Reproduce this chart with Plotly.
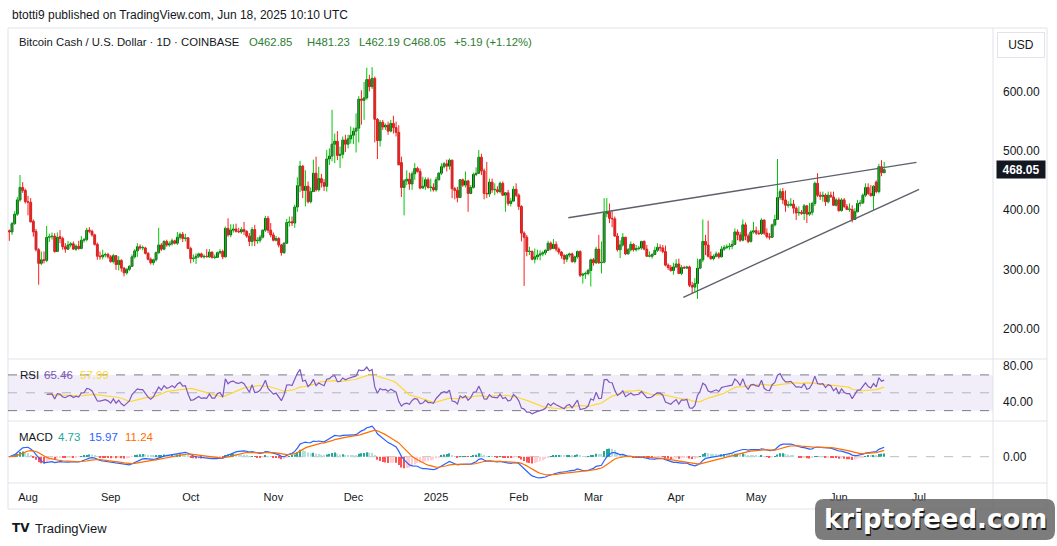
import pandas as pd
import numpy as np
import plotly.graph_objects as go

W, H = 1057, 546

# ---------------- DATA ----------------
start_date = "2024-07-25"

opens = [
365,363,377,393,417,438,433,414,413,381,
364,333,310,316,315,354,355,356,330,355,
352,338,334,341,343,334,339,335,349,350,
366,364,358,342,322,321,324,325,321,313,
323,308,315,302,294,300,305,321,331,338,
336,336,327,317,311,316,328,341,334,347,
341,343,348,344,354,359,352,353,335,318,
319,322,326,321,322,321,329,320,320,328,
330,321,369,358,366,368,364,363,367,364,
356,347,367,348,349,354,366,386,366,358,
349,352,341,328,344,379,380,378,405,441,
474,433,440,414,431,462,434,453,446,440,
486,491,511,516,492,494,518,511,520,526,
533,538,587,585,589,620,608,622,553,517,
548,540,543,533,546,539,531,480,438,449,
452,444,461,470,465,437,440,451,438,438,
434,451,462,473,478,474,484,436,433,421,
451,442,449,428,438,460,462,489,466,428,
427,447,434,434,431,445,425,429,411,415,
435,425,406,361,354,330,330,317,321,324,
326,328,332,344,335,342,334,329,323,317,
324,326,313,321,330,290,292,293,298,316,
311,334,311,312,394,397,386,385,356,333,
341,354,326,333,342,333,335,336,347,334,
322,322,325,332,337,336,330,307,303,298,
304,309,293,303,302,304,273,270,276,302,
316,347,341,322,318,322,326,321,334,337,
338,339,342,363,358,349,375,356,347,363,
365,361,360,383,361,355,354,375,384,421,
431,417,408,408,410,403,395,396,394,407,
393,396,411,445,425,423,425,414,425,422,
408,417,399,417,406,401,401,384,397,411,
412,425,438,428,424,447,431,473,462.85]

highs = [
367,380,398,422,459,447,436,424,420,384,
368,336,330,330,373,360,362,361,362,366,
355,344,348,346,347,342,348,356,353,370,
371,367,360,345,330,333,328,328,324,326,
324,322,317,304,302,307,325,334,344,342,
340,338,329,320,318,330,370,344,349,350,
347,352,350,363,362,363,360,354,338,325,
327,328,328,325,334,334,330,325,330,334,
333,372,386,376,376,377,370,371,380,366,
361,371,375,354,358,367,390,390,378,362,
356,354,343,346,385,389,389,409,455,483,
476,467,448,438,485,490,473,461,452,501,
504,569,529,533,507,524,527,527,541,539,
563,592,602,616,640,628,641,625,555,552,
552,546,549,552,559,549,543,490,452,467,
463,465,479,473,470,456,455,455,453,445,
456,464,479,481,485,487,485,439,439,452,
453,465,451,442,463,472,501,495,470,481,
453,453,445,440,448,448,430,434,420,440,
445,428,408,364,358,338,332,335,333,332,
331,334,348,347,351,347,337,331,326,326,
328,328,323,332,332,294,296,301,318,319,
338,358,347,420,420,411,399,389,361,349,
361,355,336,347,344,341,339,348,349,341,
330,327,338,344,342,341,340,310,307,311,
317,318,307,306,306,306,279,285,318,318,
384,358,382,330,325,330,329,339,341,342,
344,349,369,367,363,384,379,360,366,380,
372,366,386,384,369,361,377,392,486,436,
437,433,415,420,417,406,406,400,410,408,
412,414,448,462,431,431,428,431,431,431,
420,421,420,420,410,411,408,403,417,417,
428,445,445,442,442,450,478,484,481.23]

lows = [
348,358,375,390,414,429,411,391,379,355,
330,274,307,310,312,346,350,328,329,344,
333,328,333,337,333,331,333,334,345,347,
361,355,340,316,316,317,320,318,311,310,
299,298,296,288,291,297,304,318,321,333,
332,325,315,308,307,313,326,331,332,338,
338,340,342,341,350,346,347,335,310,312,
309,319,319,318,320,319,318,317,319,325,
317,320,355,354,362,362,361,360,358,353,
339,339,339,343,345,352,363,361,354,347,
347,337,323,326,343,372,373,370,397,430,
420,406,411,411,431,431,431,438,432,431,
476,482,479,484,471,487,498,504,512,511,
497,514,544,552,586,600,604,514,486,507,
535,535,527,531,529,524,476,422,391,442,
434,434,451,463,435,436,434,436,431,431,
431,450,459,470,465,468,420,418,413,420,
439,438,397,428,436,457,462,459,418,420,
422,429,425,428,428,424,397,407,406,414,
422,400,347,272,322,324,315,310,316,315,
322,324,331,332,334,330,325,318,309,312,
320,311,310,318,287,276,284,290,271,306,
309,309,293,310,388,378,371,355,330,319,
338,324,325,330,330,330,332,333,332,321,
320,318,324,329,330,327,305,299,296,291,
302,292,290,301,301,270,259,262,250,300,
312,324,320,316,315,320,318,320,331,334,
333,334,342,349,346,347,349,344,345,360,
358,358,358,358,352,350,353,372,383,417,
410,397,404,406,394,383,390,392,383,378,
390,391,407,422,417,414,407,411,421,407,
406,397,397,403,400,397,379,383,396,406,
410,422,425,423,400,428,428,457,462.19]

closes = [
363,377,393,417,438,433,414,413,380,363,
333,310,316,315,354,355,356,330,354,352,
338,334,341,343,334,339,335,349,350,366,
364,358,342,322,321,324,325,321,313,323,
308,315,302,294,300,305,321,331,338,336,
336,327,317,311,316,328,341,334,347,341,
343,348,344,354,359,352,353,335,318,319,
322,326,321,322,321,329,320,320,328,330,
321,369,358,366,368,364,363,367,364,356,
347,367,348,349,354,366,386,366,358,349,
352,341,328,344,379,380,378,405,441,474,
433,440,414,431,462,434,453,446,440,486,
491,511,516,492,494,518,511,520,526,533,
538,587,585,589,620,608,622,553,517,548,
540,543,533,546,539,531,476,438,449,452,
444,461,470,465,437,440,451,438,438,434,
451,462,473,478,474,484,436,433,421,451,
442,449,428,438,460,462,489,466,428,427,
447,434,434,431,445,425,429,411,415,435,
425,406,361,354,330,330,317,321,324,326,
328,332,344,335,342,334,329,323,317,324,
326,313,321,330,290,292,293,298,316,311,
334,311,312,394,397,386,385,356,333,341,
354,326,333,342,333,335,336,347,334,322,
322,325,332,337,336,330,307,303,298,304,
309,293,303,302,304,273,270,276,302,316,
347,341,322,318,322,326,321,334,337,338,
339,342,363,358,349,375,356,347,363,365,
361,360,383,361,355,354,375,384,421,431,
417,408,408,410,403,395,396,394,407,393,
396,411,445,425,423,425,414,425,422,408,
417,399,417,406,401,401,384,397,411,412,
425,438,428,424,440,431,473,463,468.05]

month_ticks = ["2024-08-01", "2024-09-01", "2024-10-01", "2024-11-01", "2024-12-01",
               "2025-01-01", "2025-02-01", "2025-03-01", "2025-04-01", "2025-05-01",
               "2025-06-01", "2025-07-01"]
month_labels = ["Aug", "Sep", "Oct", "Nov", "Dec", "2025", "Feb", "Mar", "Apr", "May", "Jun", "Jul"]
price_ticks = [200, 300, 400, 500, 600]
rsi_ticks = [40, 80]
macd_ticks = [0]

# trend lines drawn on the chart (endpoints)
upper_line_x = ["2025-02-19 14:00", "2025-06-30 02:00"]
upper_line_y = [387.0, 480.4]
lower_line_x = ["2025-04-03 17:00", "2025-07-01 02:00"]
lower_line_y = [252.8, 434.9]

# legend values shown in the panes
rsi_vals_text = ["65.46", "57.99"]
macd_vals_text = ["4.73", "15.97", "11.24"]
last_price_text = "468.05"

# ---------------- derived series ----------------
dates = pd.date_range(start_date, periods=len(closes), freq="D")
c = pd.Series(closes, dtype=float)

# RSI 14 (Wilder / RMA, SMA seed)
d = c.diff()
gain = d.clip(lower=0)
loss = (-d).clip(lower=0)
n = 14
ag = pd.Series(np.nan, index=c.index)
al = pd.Series(np.nan, index=c.index)
ag.iloc[n] = gain.iloc[1:n + 1].mean()
al.iloc[n] = loss.iloc[1:n + 1].mean()
for i in range(n + 1, len(c)):
    ag.iloc[i] = (ag.iloc[i - 1] * (n - 1) + gain.iloc[i]) / n
    al.iloc[i] = (al.iloc[i - 1] * (n - 1) + loss.iloc[i]) / n
rsi = 100 - 100 / (1 + ag / al)
rsi_ma = rsi.rolling(14, min_periods=1).mean()

# MACD 12/26/9
ema12 = c.ewm(span=12, adjust=False).mean()
ema26 = c.ewm(span=26, adjust=False).mean()
macd = ema12 - ema26
signal = macd.ewm(span=9, adjust=False).mean()
hist = macd - signal
hcol = []
for i, h in enumerate(hist):
    prev = hist.iloc[i - 1] if i > 0 else 0
    if h >= 0:
        hcol.append("#26A69A" if h >= prev else "#B2DFDB")
    else:
        hcol.append("#FFCDD2" if h >= prev else "#FF5252")

# ---------------- figure ----------------
def px(x):
    return x / W

def py(y):
    return 1 - y / H

PANE_L, PANE_R = 8, 993
MAIN_T, MAIN_B = 28, 359
RSI_T, RSI_B = 359, 421
MACD_T, MACD_B = 421, 483
AXIS_B = 509

def price_at(y):
    return 500 - (y - 150.7) / 0.593

FONT = "Liberation Sans, Arial, sans-serif"
fig = go.Figure()

up = [i for i in range(len(closes)) if closes[i] >= opens[i]]
dn = [i for i in range(len(closes)) if closes[i] < opens[i]]

def wick_xy(idx):
    xs, ys = [], []
    for i in idx:
        xs += [dates[i], dates[i], None]
        ys += [lows[i], highs[i], None]
    return xs, ys

for idx, col in ((up, "#00C805"), (dn, "#FF1E1E")):
    xs, ys = wick_xy(idx)
    fig.add_trace(go.Scatter(x=xs, y=ys, mode="lines", line=dict(color=col, width=1),
                             hoverinfo="skip", showlegend=False, xaxis="x", yaxis="y"))

base = [min(o, cc) for o, cc in zip(opens, closes)]
hgt = [max(abs(cc - o), 0.8) for o, cc in zip(opens, closes)]
fill = ["#2E8B3A" if cc >= o else "#B71C1C" for o, cc in zip(opens, closes)]
edge = ["#1B4A1F" if cc >= o else "#C62828" for o, cc in zip(opens, closes)]
fig.add_trace(go.Bar(x=dates, y=hgt, base=base, width=0.7 * 86400000,
                     marker=dict(color=fill, line=dict(color=edge, width=1)),
                     showlegend=False, hoverinfo="skip", xaxis="x", yaxis="y"))

# trend lines
fig.add_trace(go.Scatter(x=upper_line_x, y=upper_line_y, mode="lines",
                         line=dict(color="#5d606b", width=1.4), showlegend=False, yaxis="y"))
fig.add_trace(go.Scatter(x=lower_line_x, y=lower_line_y, mode="lines",
                         line=dict(color="#5d606b", width=1.4), showlegend=False, yaxis="y"))

# RSI pane
fig.add_trace(go.Scatter(x=dates, y=rsi_ma, mode="lines", line=dict(color="#FDD835", width=1.2),
                         showlegend=False, yaxis="y2"))
fig.add_trace(go.Scatter(x=dates, y=rsi, mode="lines", line=dict(color="#7E57C2", width=1.2),
                         showlegend=False, yaxis="y2"))

# MACD pane
fig.add_trace(go.Bar(x=dates, y=hist, marker=dict(color=hcol, line=dict(width=0)),
                     width=0.45 * 86400000, showlegend=False, yaxis="y3"))
fig.add_trace(go.Scatter(x=dates, y=macd, mode="lines", line=dict(color="#2962FF", width=1.2),
                         showlegend=False, yaxis="y3"))
fig.add_trace(go.Scatter(x=dates, y=signal, mode="lines", line=dict(color="#FF6D00", width=1.2),
                         showlegend=False, yaxis="y3"))

axis_font = dict(family=FONT, size=12, color="#131722")

fig.update_layout(
    width=W, height=H, margin=dict(l=0, r=0, t=0, b=0),
    paper_bgcolor="white", plot_bgcolor="white",
    barmode="overlay", showlegend=False,
    font=dict(family=FONT, color="#131722"),
    xaxis=dict(domain=[px(PANE_L), px(PANE_R)], anchor="y3",
               range=["2024-07-24 12:00", "2025-07-28 19:00"],
               tickvals=month_ticks, ticktext=month_labels,
               tickfont=dict(family=FONT, size=11, color="#131722"),
               ticks="", showgrid=False, zeroline=False, showline=False,
               ticklabelstandoff=6),
    yaxis=dict(domain=[py(MAIN_B), py(MAIN_T)], range=[price_at(MAIN_B), price_at(MAIN_T)],
               side="right", anchor="x", tickvals=price_ticks,
               ticktext=[f"{v:.2f}" for v in price_ticks], tickfont=axis_font,
               ticks="", showgrid=False, zeroline=False, showline=False, ticklabelstandoff=9),
    yaxis2=dict(domain=[py(RSI_B), py(RSI_T)], range=[18.4, 87.8], side="right", anchor="x",
                tickvals=rsi_ticks, ticktext=[f"{v:.2f}" for v in rsi_ticks], tickfont=axis_font,
                ticks="", showgrid=False, zeroline=False, showline=False, ticklabelstandoff=9),
    yaxis3=dict(domain=[py(MACD_B), py(MACD_T)], range=[-42.1, 57.1], side="right", anchor="x",
                tickvals=macd_ticks, ticktext=["0.00"], tickfont=axis_font,
                ticks="", showgrid=False, zeroline=False, showline=False, ticklabelstandoff=9),
)

shapes = []
border = "#e0e3eb"
shapes.append(dict(type="rect", xref="paper", yref="paper", x0=px(PANE_L), x1=px(1047),
                   y0=py(AXIS_B), y1=py(MAIN_T), line=dict(color=border, width=1), layer="below"))
shapes.append(dict(type="line", xref="paper", yref="paper", x0=px(PANE_R), x1=px(PANE_R),
                   y0=py(AXIS_B), y1=py(MAIN_T), line=dict(color=border, width=1)))
for yy in (RSI_T, MACD_T, MACD_B):
    shapes.append(dict(type="line", xref="paper", yref="paper", x0=px(PANE_L), x1=px(1047),
                       y0=py(yy), y1=py(yy), line=dict(color=border, width=1)))
shapes.append(dict(type="rect", xref="x domain", yref="y2", x0=0, x1=1, y0=30, y1=70,
                   fillcolor="rgba(126,87,194,0.1)", line=dict(width=0), layer="below"))
for lv in (70, 50, 30):
    shapes.append(dict(type="line", xref="x domain", yref="y2", x0=0, x1=1, y0=lv, y1=lv,
                       line=dict(color="#787B86" if lv != 50 else "rgba(120,123,134,0.5)",
                                 width=1, dash="dash"), layer="below"))
shapes.append(dict(type="line", xref="x domain", yref="y3", x0=0, x1=1, y0=0, y1=0,
                   line=dict(color="rgba(120,123,134,0.5)", width=1, dash="dash"), layer="below"))

# watermark box (rounded)
bx0, bx1, by0, by1, r = 815, 1055, 499, 540, 9
path = (f"M {px(bx0 + r)},{py(by0)} L {px(bx1 - r)},{py(by0)} "
        f"Q {px(bx1)},{py(by0)} {px(bx1)},{py(by0 + r)} L {px(bx1)},{py(by1 - r)} "
        f"Q {px(bx1)},{py(by1)} {px(bx1 - r)},{py(by1)} L {px(bx0 + r)},{py(by1)} "
        f"Q {px(bx0)},{py(by1)} {px(bx0)},{py(by1 - r)} L {px(bx0)},{py(by0 + r)} "
        f"Q {px(bx0)},{py(by0)} {px(bx0 + r)},{py(by0)} Z")
shapes.append(dict(type="path", xref="paper", yref="paper", path=path,
                   fillcolor="rgba(95,95,95,0.82)", line=dict(width=0), layer="above"))
fig.update_layout(shapes=shapes)

ann = []
def txt(x, y, text, size=12, color="#131722", xanchor="left", family=FONT, **kw):
    ann.append(dict(x=px(x), y=py(y), xref="paper", yref="paper", text=text, showarrow=False,
                    xanchor=xanchor, yanchor="middle",
                    font=dict(size=size, color=color, family=family), **kw))

txt(10, 15, "btotti9 published on TradingView.com, Jun 18, 2025 10:10 UTC", size=12)
txt(17, 42, "Bitcoin Cash / U.S. Dollar · 1D · COINBASE", size=11.3)
green_t = "#2E7D32"
txt(247, 42, "O462.85", size=11.3, color=green_t)
txt(305, 42, "H481.23", size=11.3, color=green_t)
txt(357, 42, "L462.19", size=11.3, color=green_t)
txt(401, 42, "C468.05", size=11.3, color=green_t)
txt(452, 42, "+5.19 (+1.12%)", size=11.3, color=green_t)

txt(18, 375, "RSI", size=11.5)
txt(42, 375, rsi_vals_text[0], size=11.5, color="#7E57C2")
txt(78, 375, rsi_vals_text[1], size=11.5, color="#FDD835")
txt(17, 437, "MACD", size=11.5)
txt(56, 437, macd_vals_text[0], size=11.5, color="#26A69A")
txt(87, 437, macd_vals_text[1], size=11.5, color="#2962FF")
txt(123, 437, macd_vals_text[2], size=11.5, color="#FF6D00")

# USD button
ann.append(dict(x=px(1021), y=py(45), xref="paper", yref="paper", text="USD", showarrow=False,
                xanchor="center", yanchor="middle",
                font=dict(size=12, color="#131722", family=FONT),
                bordercolor="#e0e3eb", borderwidth=1, borderpad=4, bgcolor="white",
                width=38, height=16))
# last price tag
ann.append(dict(x=px(1021), y=468.05, xref="paper", yref="y", text=f"<b>{last_price_text}</b>",
                showarrow=False, xanchor="center", yanchor="middle",
                font=dict(size=12, color="white", family=FONT),
                bgcolor="#131722", borderpad=2, width=44, height=13))

# TradingView logo text
txt(10, 528, "<b>TV</b>", size=12, family="DejaVu Sans, sans-serif")
txt(33, 528, "TradingView", size=13)

# watermark text (shadow + white)
for dx, col in ((1.6, "#1a1a1a"), (0, "white")):
    ann.append(dict(x=px(935 + dx), y=py(519 + dx), xref="paper", yref="paper",
                    text="<b>kriptofeed.com</b>", showarrow=False,
                    xanchor="center", yanchor="middle",
                    font=dict(size=26, color=col, family="DejaVu Sans, sans-serif")))
fig.update_layout(annotations=ann)

fig.write_html("out.html")
